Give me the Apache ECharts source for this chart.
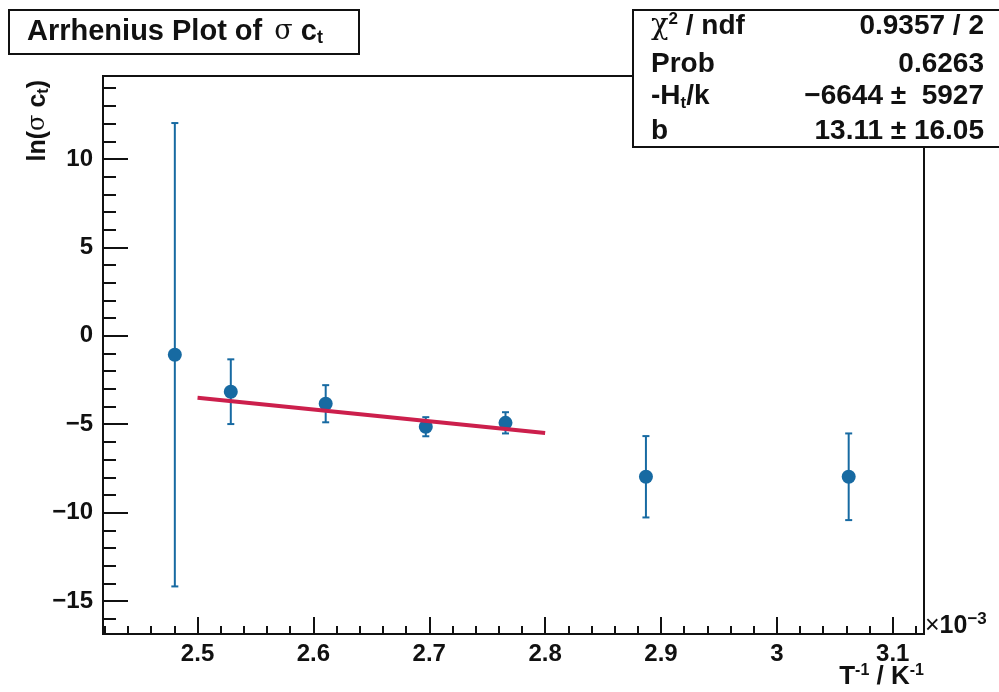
<!DOCTYPE html>
<html><head><meta charset="utf-8">
<script src="https://cdn.jsdelivr.net/npm/echarts@6/dist/echarts.min.js"></script>
<style>html,body{margin:0;padding:0;background:#fff}#c{width:999px;height:692px}</style>
</head><body><div id="c"></div>
<script>
// data (x in units of 1e-3 K^-1)
const xVals = [2.4804, 2.5287, 2.6106, 2.697, 2.7658, 2.887, 3.062];
const yVals = [-1.07, -3.16, -3.84, -5.14, -4.92, -7.97, -7.97];
const yErrs = [13.1, 1.83, 1.05, 0.54, 0.6, 2.3, 2.45];
const fitX = [2.5, 2.8];
const fitY = [-3.50, -5.49];
const xMajor = [2.5, 2.6, 2.7, 2.8, 2.9, 3.0, 3.1];
const xMinor = [2.42, 2.44, 2.46, 2.48, 2.52, 2.54, 2.56, 2.58, 2.62, 2.64, 2.66, 2.68, 2.72, 2.74, 2.76, 2.78, 2.82, 2.84, 2.86, 2.88, 2.92, 2.94, 2.96, 2.98, 3.02, 3.04, 3.06, 3.08, 3.12];
const yMajor = [-15, -10, -5, 0, 5, 10];
const yMinor = [-16, -14, -13, -12, -11, -9, -8, -7, -6, -4, -3, -2, -1, 1, 2, 3, 4, 6, 7, 8, 9, 11, 12, 13, 14];
const statValues = ['0.9357 / 2', '0.6263', '\u22126644 \u00b1  5927', '13.11 \u00b1 16.05'];

const X_MIN = 2.4184, X_MAX = 3.127, Y_MIN = -16.86, Y_MAX = 14.69;
const FONT = '"Liberation Sans", Arial, Helvetica, sans-serif';
const BLUE = '#176aa2';
const fmtNum = v => { const s = String(Math.round(v * 1000) / 1000); return s.replace('-', '\u2212'); };

const chart = echarts.init(document.getElementById('c'), null, {renderer: 'canvas'});
const lblStyle = {fontFamily: FONT, fontWeight: 'bold', fontSize: 24, color: '#111'};

const option = {
  animation: false,
  backgroundColor: '#fff',
  grid: {left: 103, right: 75, top: 76, bottom: 58, show: true, borderColor: '#111', borderWidth: 2, backgroundColor: 'transparent'},
  xAxis: [
    {type: 'value', min: X_MIN, max: X_MAX, position: 'bottom',
      axisLine: {show: true, onZero: false, lineStyle: {color: '#111', width: 2}},
      splitLine: {show: false},
      axisTick: {show: true, inside: true, length: 17, customValues: xMajor, lineStyle: {color: '#111', width: 2}},
      axisLabel: Object.assign({show: true, customValues: xMajor, margin: 8, formatter: fmtNum}, lblStyle)},
    {type: 'value', min: X_MIN, max: X_MAX, position: 'bottom', gridIndex: 0,
      axisLine: {show: false, onZero: false},
      splitLine: {show: false},
      axisTick: {show: true, inside: true, length: 8, customValues: xMinor, lineStyle: {color: '#111', width: 2}},
      axisLabel: {show: false}}
  ],
  yAxis: [
    {type: 'value', min: Y_MIN, max: Y_MAX, position: 'left',
      axisLine: {show: true, onZero: false, lineStyle: {color: '#111', width: 2}},
      splitLine: {show: false},
      axisTick: {show: true, inside: true, length: 25, customValues: yMajor, lineStyle: {color: '#111', width: 2}},
      axisLabel: Object.assign({show: true, customValues: yMajor, margin: 10, formatter: fmtNum}, lblStyle)},
    {type: 'value', min: Y_MIN, max: Y_MAX, position: 'left', gridIndex: 0,
      axisLine: {show: false, onZero: false},
      splitLine: {show: false},
      axisTick: {show: true, inside: true, length: 13, customValues: yMinor, lineStyle: {color: '#111', width: 2}},
      axisLabel: {show: false}}
  ],
  series: [
    {type: 'custom', name: 'err', z: 2,
      data: xVals.map((x, i) => [x, yVals[i], yErrs[i]]),
      renderItem: function (params, api) {
        const x = api.value(0), y = api.value(1), e = api.value(2);
        const top = api.coord([x, y + e]);
        const bot = api.coord([x, y - e]);
        const st = {stroke: BLUE, lineWidth: 2};
        return {type: 'group', children: [
          {type: 'line', shape: {x1: top[0], y1: top[1], x2: bot[0], y2: bot[1]}, style: st},
          {type: 'line', shape: {x1: top[0] - 3.5, y1: top[1], x2: top[0] + 3.5, y2: top[1]}, style: st},
          {type: 'line', shape: {x1: bot[0] - 3.5, y1: bot[1], x2: bot[0] + 3.5, y2: bot[1]}, style: st}
        ]};
      }},
    {type: 'scatter', z: 3, symbol: 'circle', symbolSize: 14,
      itemStyle: {color: BLUE, opacity: 1},
      data: xVals.map((x, i) => [x, yVals[i]])},
    {type: 'line', z: 4, symbol: 'none', silent: true,
      lineStyle: {color: '#cc1f4c', width: 4},
      data: fitX.map((x, i) => [x, fitY[i]])}
  ],
  graphic: [
    // title box
    {type: 'rect', shape: {x: 9, y: 10, width: 350, height: 44}, style: {fill: '#fff', stroke: '#111', lineWidth: 2}, z: 10},
    {type: 'text', x: 27, y: 32, z: 11, style: {
      text: '{b|Arrhenius Plot of }{s|\u03c3}{b| c}{sub|t}',
      verticalAlign: 'middle', align: 'left',
      rich: {
        b: {fontFamily: FONT, fontWeight: 'bold', fontSize: 29, fill: '#111'},
        s: {fontFamily: '"DejaVu Serif", serif', fontSize: 27, fill: '#111', padding: [0, 0, 0, 4]},
        sub: {fontFamily: FONT, fontWeight: 'bold', fontSize: 18, fill: '#111', verticalAlign: 'bottom', padding: [13, 0, 0, 0]}
      }}},
    // stats box
    {type: 'rect', shape: {x: 633, y: 10, width: 380, height: 137}, style: {fill: '#fff', stroke: '#111', lineWidth: 2}, z: 10},
    {type: 'text', x: 651, y: 26, z: 11, style: {text: '{g|\u03c7}{sup|2}{b| / ndf}', verticalAlign: 'middle',
      rich: {g: {fontFamily: '"DejaVu Serif", serif', fontSize: 29, fill: '#111'},
             sup: {fontFamily: FONT, fontWeight: 'bold', fontSize: 17, fill: '#111', padding: [0, 0, 14, 0]},
             b: {fontFamily: FONT, fontWeight: 'bold', fontSize: 28, fill: '#111'}}}},
    {type: 'text', x: 651, y: 64, z: 11, style: {text: 'Prob', verticalAlign: 'middle', font: 'bold 28px ' + FONT, fill: '#111'}},
    {type: 'text', x: 651, y: 96, z: 11, style: {text: '{b|-H}{sub|t}{b|/k}', verticalAlign: 'middle',
      rich: {b: {fontFamily: FONT, fontWeight: 'bold', fontSize: 28, fill: '#111'},
             sub: {fontFamily: FONT, fontWeight: 'bold', fontSize: 17, fill: '#111', padding: [14, 0, 0, 0]}}}},
    {type: 'text', x: 651, y: 131, z: 11, style: {text: 'b', verticalAlign: 'middle', font: 'bold 28px ' + FONT, fill: '#111'}},
    {type: 'text', x: 984, y: 26, z: 11, style: {text: statValues[0], align: 'right', verticalAlign: 'middle', font: 'bold 28px ' + FONT, fill: '#111'}},
    {type: 'text', x: 984, y: 64, z: 11, style: {text: statValues[1], align: 'right', verticalAlign: 'middle', font: 'bold 28px ' + FONT, fill: '#111'}},
    {type: 'text', x: 984, y: 96, z: 11, style: {text: statValues[2], align: 'right', verticalAlign: 'middle', font: 'bold 28px ' + FONT, fill: '#111'}},
    {type: 'text', x: 984, y: 131, z: 11, style: {text: statValues[3], align: 'right', verticalAlign: 'middle', font: 'bold 28px ' + FONT, fill: '#111'}},
    // x10^-3
    {type: 'text', x: 925, y: 626, z: 11, style: {text: '{m|\u00d7}{b|10}{sup|\u22123}', verticalAlign: 'middle',
      rich: {m: {fontFamily: FONT, fontSize: 25, fill: '#111'},
             b: {fontFamily: FONT, fontWeight: 'bold', fontSize: 25, fill: '#111'},
             sup: {fontFamily: FONT, fontWeight: 'bold', fontSize: 17, fill: '#111', padding: [0, 0, 14, 0]}}}},
    // x axis title
    {type: 'text', x: 924, y: 677, z: 11, style: {text: '{b|T}{sup|-1}{b| / K}{sup|-1}', align: 'right', verticalAlign: 'middle',
      rich: {b: {fontFamily: FONT, fontWeight: 'bold', fontSize: 26, fill: '#111'},
             sup: {fontFamily: FONT, fontWeight: 'bold', fontSize: 16, fill: '#111', padding: [0, 0, 13, 0]}}}},
    // y axis title
    {type: 'text', x: 38, y: 80, rotation: Math.PI / 2, z: 11, style: {text: '{b|ln(}{s|\u03c3}{b| c}{sub|t}{b|)}', align: 'right', verticalAlign: 'middle',
      rich: {b: {fontFamily: FONT, fontWeight: 'bold', fontSize: 25, fill: '#111'},
             s: {fontFamily: '"DejaVu Serif", serif', fontSize: 24, fill: '#111'},
             sub: {fontFamily: FONT, fontWeight: 'bold', fontSize: 16, fill: '#111', padding: [12, 0, 0, 0]}}}}
  ]
};
chart.setOption(option);
</script>
</body></html>
